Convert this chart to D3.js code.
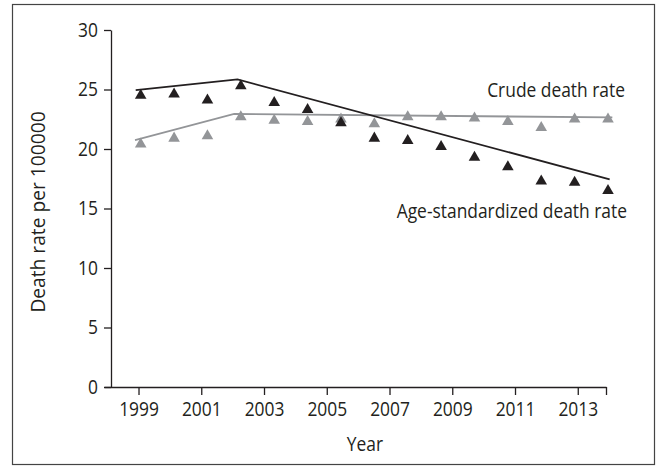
<!DOCTYPE html>
<html>
<head>
<meta charset="utf-8">
<script src="https://cdn.jsdelivr.net/npm/d3@7"></script>
<style>
  body { margin: 0; background: #fff; }
  text { font-family: "Open Sans", sans-serif; fill: #231f20; }
  .axis text { font-size: 20px; }
  .axis path, .axis line { stroke: #231f20; stroke-width: 1.3; }
</style>
</head>
<body>
<div id="chart"></div>
<script>
// data
const years = [1999, 2000, 2001, 2002, 2003, 2004, 2005, 2006, 2007, 2008, 2009, 2010, 2011, 2012, 2013];
const ageStdRate = [24.5, 24.6, 24.1, 25.3, 23.9, 23.3, 22.2, 20.9, 20.7, 20.2, 19.3, 18.5, 17.3, 17.2, 16.5];
const crudeRate  = [20.4, 20.9, 21.1, 22.7, 22.4, 22.3, 22.5, 22.1, 22.7, 22.7, 22.6, 22.3, 21.8, 22.5, 22.5];

// joinpoint fitted lines
const ageFitYears = [1998.85, 2001.9, 2013.05];
const ageFitRate  = [24.95, 25.85, 17.45];
const crudeFitYears = [1998.83, 2001.8, 2013.13];
const crudeFitRate  = [20.75, 22.95, 22.65];

const yTicks = [0, 5, 10, 15, 20, 25, 30];
const xTicks = [1999, 2001, 2003, 2005, 2007, 2009, 2011, 2013];

const width = 657, height = 467;
const black = "#231f20", grey = "#939598";
const narrow = 0.87; // the figure uses a condensed face

var svg = d3.select("#chart").append("svg")
  .attr("width", width)
  .attr("height", height);

// outer frame
svg.append("rect")
  .attr("x", 12.5).attr("y", 4.5)
  .attr("width", 642).attr("height", 460)
  .attr("fill", "none")
  .attr("stroke", "#444")
  .attr("stroke-width", 1.2);

var y = d3.scaleLinear().domain([0, 30]).range([387, 30]);
// axis ticks and data points don't share spacing in the original figure
var xAxisScale = d3.scaleLinear().domain([1997.9, 2013.9]).range([104, 606]);
var x = d3.scaleLinear().domain([1999, 2013]).range([140.7, 608]);

var yAxis = d3.axisLeft(y).tickValues(yTicks).tickSize(7).tickSizeOuter(0).tickPadding(8);
svg.append("g")
  .attr("class", "axis")
  .attr("transform", "translate(111,0)")
  .call(yAxis)
  .selectAll("text").attr("transform", "scale(" + narrow + ",1)");

var xAxis = d3.axisBottom(xAxisScale)
  .tickValues(xTicks.concat([2013.9]))
  .tickFormat(function(d) { return xTicks.indexOf(d) >= 0 ? d : ""; })
  .tickSize(8).tickSizeOuter(0).tickPadding(7);
svg.append("g")
  .attr("class", "axis")
  .attr("transform", "translate(0,387)")
  .call(xAxis)
  .selectAll("text").attr("transform", "scale(" + narrow + ",1)");

function label(txt, px, py, anchor, rot, sx) {
  svg.append("g")
    .attr("transform", "translate(" + px + "," + py + ")" + (rot ? " rotate(" + rot + ")" : ""))
    .append("text")
      .text(txt)
      .attr("transform", "scale(" + sx + ",1)")
      .attr("text-anchor", anchor)
      .style("font-size", "20px");
}

// axis titles
label("Year", 365, 451, "middle", 0, narrow);
label("Death rate per 100000", 45, 212, "middle", -90, 0.96);

// fitted lines
var line = d3.line()
  .x(function(d) { return x(d[0]); })
  .y(function(d) { return y(d[1]); });

svg.append("path")
  .datum(d3.zip(crudeFitYears, crudeFitRate))
  .attr("d", line)
  .attr("fill", "none")
  .attr("stroke", grey)
  .attr("stroke-width", 1.8);

svg.append("path")
  .datum(d3.zip(ageFitYears, ageFitRate))
  .attr("d", line)
  .attr("fill", "none")
  .attr("stroke", black)
  .attr("stroke-width", 1.8);

// markers
var tri = d3.symbol().type(d3.symbolTriangle).size(58);

svg.selectAll(".crude")
  .data(d3.zip(years, crudeRate))
  .enter().append("path")
    .attr("class", "crude")
    .attr("d", tri)
    .attr("fill", grey)
    .attr("transform", function(d) { return "translate(" + x(d[0]) + "," + y(d[1]) + ")"; });

svg.selectAll(".agestd")
  .data(d3.zip(years, ageStdRate))
  .enter().append("path")
    .attr("class", "agestd")
    .attr("d", tri)
    .attr("fill", black)
    .attr("transform", function(d) { return "translate(" + x(d[0]) + "," + y(d[1]) + ")"; });

// series labels
label("Crude death rate", 625, 97, "end", 0, narrow);
label("Age-standardized death rate", 627, 218, "end", 0, narrow);
</script>
</body>
</html>
